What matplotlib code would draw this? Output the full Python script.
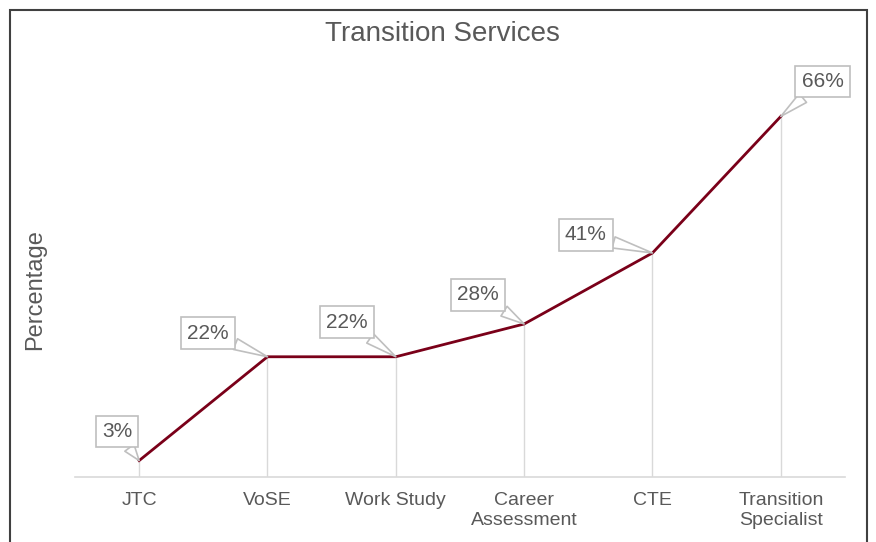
import numpy as np
import matplotlib.pyplot as plt
from matplotlib.patches import Rectangle

plt.rcParams['font.family'] = ['Liberation Sans', 'DejaVu Sans']

categories = ["JTC", "VoSE", "Work Study", "Career\nAssessment", "CTE", "Transition\nSpecialist"]
values = [3, 22, 22, 28, 41, 66]
labels = ["3%", "22%", "22%", "28%", "41%", "66%"]
# label offsets in points (dx, dy) from each point
offsets = [(-16, 21), (-43, 17), (-35, 25), (-33, 21), (-48, 13), (30, 25)]

text_col = "#595959"
line_col = "#7a0019"
grid_col = "#d9d9d9"

fig = plt.figure(figsize=(8.76, 5.42), dpi=100)
ax = fig.add_axes([0.0856, 0.12, 0.879, 0.756])

x = np.arange(len(categories))
ax.vlines(x, 0, values, color=grid_col, lw=1.0, zorder=1)
ax.plot(x, values, color=line_col, lw=2.0, zorder=3)

for xi, v, lab, (dx, dy) in zip(x, values, labels, offsets):
    ax.annotate(lab, xy=(xi, v), xytext=(dx, dy), textcoords="offset points",
                ha="center", va="center", fontsize=15, color=text_col, zorder=4,
                bbox=dict(boxstyle="square,pad=0.3", fc="white", ec="#bfbfbf", lw=1.2),
                arrowprops=dict(arrowstyle="wedge,tail_width=0.55,shrink_factor=0.5",
                                fc="white", ec="#bfbfbf", lw=1.2, shrinkA=0, shrinkB=0))

ax.set_xlim(-0.5, 5.5)
ax.set_ylim(0, 75)
ax.set_xticks(x)
ax.set_xticklabels(categories, fontsize=14, color=text_col, linespacing=1.25)
ax.tick_params(axis="x", length=0, pad=11)
ax.set_yticks([])
for s in ["top", "right", "left"]:
    ax.spines[s].set_visible(False)
ax.spines["bottom"].set_color(grid_col)
ax.spines["bottom"].set_linewidth(1.2)

ax.set_ylabel("Percentage", fontsize=17, color=text_col)
ax.yaxis.set_label_coords(-0.038, 0.4585)
fig.text(442 / 876, 0.938, "Transition Services", ha="center", va="center",
         fontsize=20, color=text_col)

# chart frame
fig.patches.append(Rectangle((10 / 876, -0.1), 857 / 876, 1.1 - 10 / 542,
                             transform=fig.transFigure, fill=False,
                             ec="#404040", lw=1.5))

fig.savefig("out.png", dpi=100)
